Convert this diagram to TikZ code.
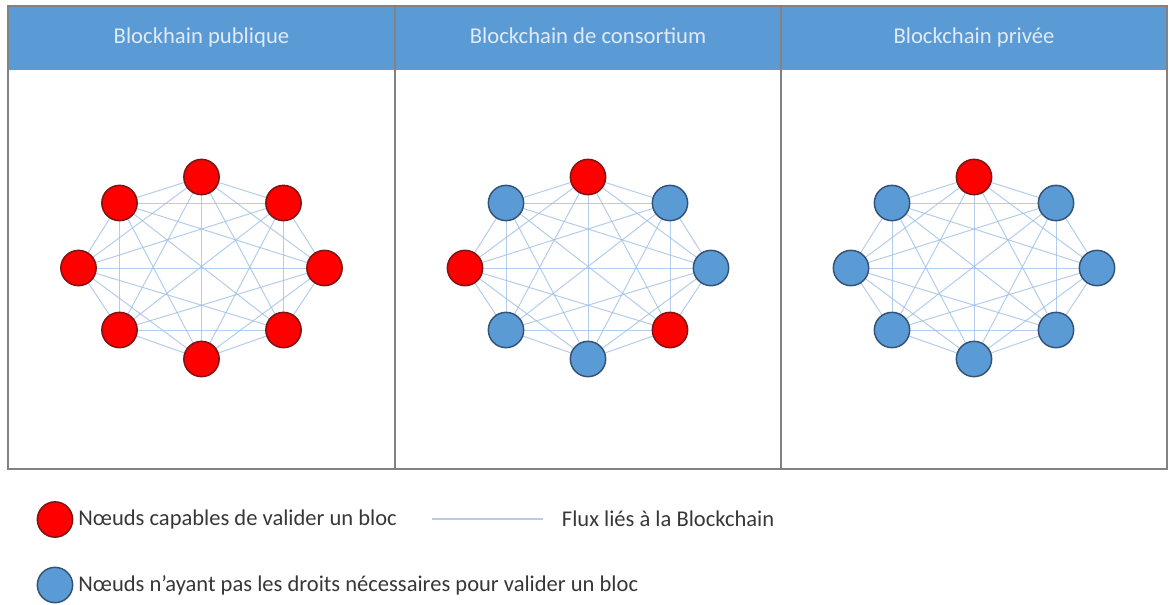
\documentclass[tikz,border=0pt]{standalone}
\usepackage{fontspec}
\setmainfont{Carlito}
\usetikzlibrary{positioning,backgrounds}

\definecolor{entete}{RGB}{91,155,213}
\definecolor{bleunoeud}{RGB}{91,155,213}
\definecolor{bordbleu}{RGB}{52,82,118}
\definecolor{rougenoeud}{RGB}{255,0,0}
\definecolor{bordrouge}{RGB}{125,20,20}
\definecolor{flux}{RGB}{160,192,230}
\definecolor{cadre}{RGB}{130,130,130}
\definecolor{titre}{RGB}{224,234,246}
\definecolor{texte}{RGB}{55,55,55}

\tikzset{
  noeud/.style={circle,minimum size=26.5pt,inner sep=0pt,line width=1.1pt},
  valide/.style={noeud,fill=rougenoeud,draw=bordrouge},
  simple/.style={noeud,fill=bleunoeud,draw=bordbleu},
  fluxline/.style={draw=flux,line width=0.75pt,opacity=0.8},
  titrebloc/.style={text=titre,anchor=base,font=\fontsize{17}{20}\selectfont},
  legende/.style={text=texte,inner sep=0pt,anchor=west,font=\fontsize{16.9}{20}\selectfont}
}

\def\dxs{{0,82,123,82,0,-82,-123,-82}}
\def\dys{{-91,-65,0,62,91,62,0,-65}}

\begin{document}
\begin{tikzpicture}[x=0.75pt,y=-0.75pt]
\useasboundingbox (0,0) rectangle (1169,604);

% header band and frames
\fill[entete] (8,6) rectangle (1167,70);
\draw[cadre,line width=1.3pt] (8,6) rectangle (1167,469);
\draw[cadre,line width=1.1pt] (395,6) -- (395,469);
\draw[cadre,line width=1.1pt] (781,6) -- (781,469);

\node[titrebloc] (t1) at (201.5,43) {Blockhain publique};
\node[titrebloc] (t2) at (588,43) {Blockchain de consortium};
\node[titrebloc] (t3) at (974,43) {Blockchain privée};

% the three networks
\foreach \p/\cx/\cols in {1/201.5/{valide,valide,valide,valide,valide,valide,valide,valide},
                          2/588/{valide,simple,simple,valide,simple,simple,valide,simple},
                          3/974/{valide,simple,simple,simple,simple,simple,simple,simple}}{
  \foreach \c [count=\i] in \cols {
    \pgfmathsetmacro\nx{\cx+\dxs[\i-1]}
    \pgfmathsetmacro\ny{268+\dys[\i-1]}
    \node[\c] (p\p-\i) at (\nx,\ny) {};
  }
}

\begin{scope}[on background layer]
\foreach \p in {1,2,3}
  \foreach \i in {1,...,7}{
    \pgfmathtruncatemacro\suiv{\i+1}
    \foreach \j in {\suiv,...,8}
      \draw[fluxline] (p\p-\i.center) -- (p\p-\j.center);
  }
\end{scope}

% legend
\node[valide] (legv) at (55,519.5) {};
\node[legende,right=3.5pt of legv] (txtv) {Nœuds capables de valider un bloc};
\coordinate (f1) at (432,519);
\coordinate (f2) at (543,519);
\draw[fluxline,line width=1.3pt] (f1) -- (f2);
\node[legende,right=14pt of f2] (txtf) {Flux liés à la Blockchain};
\node[simple] (legb) at (55,585) {};
\node[legende,right=3.5pt of legb] (txtb) {Nœuds n’ayant pas les droits nécessaires pour valider un bloc};
\end{tikzpicture}
\end{document}
